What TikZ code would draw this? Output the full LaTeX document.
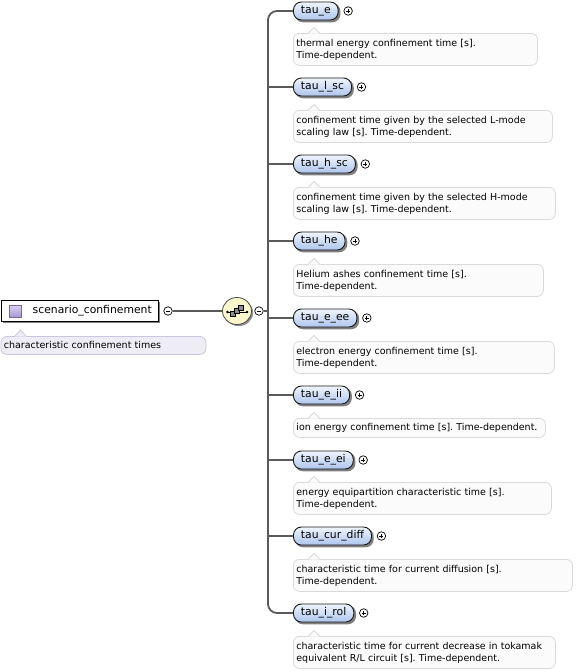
\documentclass[tikz,border=0pt]{standalone}
\usepackage{fontspec}
\setmainfont{DejaVu Sans}
\frenchspacing
\usetikzlibrary{calc,shapes.geometric,backgrounds}
\definecolor{conncol}{HTML}{5A5A5A}
\definecolor{docfill}{HTML}{FBFBFB}
\definecolor{docline}{HTML}{DADADA}
\definecolor{rootdocfill}{HTML}{EEEDF6}
\definecolor{rootdocline}{HTML}{C9C6DD}
\definecolor{pilltop}{HTML}{F0F5FD}
\definecolor{pillbot}{HTML}{ADC5EC}
\definecolor{compfill}{HTML}{FBF7CC}
\definecolor{iconA}{HTML}{D9D2F0}
\definecolor{iconB}{HTML}{A698D4}
\tikzset{
  conn/.style={draw=conncol, line width=1.8pt},
  pill/.style={draw=black!90, line width=0.9pt, rounded corners=8pt, minimum height=18pt,
    inner xsep=7.5pt, inner ysep=0pt, top color=pilltop, bottom color=pillbot,
    font=\fontsize{10.8}{12}\selectfont, anchor=west},
  pillshadow/.style={fill=black!50, rounded corners=8pt},
  docbox/.style={draw=docline, line width=0.8pt, fill=docfill, rounded corners=6pt,
    anchor=north west, align=left, inner xsep=3pt, inner ysep=2pt,
    font=\fontsize{9.5}{12}\selectfont},
  rootdoc/.style={docbox, draw=rootdocline, fill=rootdocfill},
  pm/.style={circle, draw=black, line width=0.7pt, fill=white, minimum size=8.5pt, inner sep=0pt},
}
\newcommand\plusmark[1]{%
  \draw[line width=0.7pt] ($(#1)+(-2,0)$) -- ($(#1)+(2,0)$);
  \draw[line width=0.7pt] ($(#1)+(0,-2)$) -- ($(#1)+(0,2)$);}
\newcommand\minusmark[1]{%
  \draw[line width=0.7pt] ($(#1)+(-2,0)$) -- ($(#1)+(2,0)$);}
% #1 name, #2 label, #3 y, #4 doc top, #5 doc right, #6 doc height, #7 text
\newcommand\xchild[7]{%
  \node[pill, opacity=0, text opacity=0] (#1tmp) at (293,#3) {#2};
  \fill[pillshadow] ($(#1tmp.south west)+(1.8,1.8)$) rectangle ($(#1tmp.north east)+(1.8,1.8)$);
  \node[pill] (#1) at (293,#3) {#2};
  \node[pm] (#1p) at ($(#1.east)+(9.5,0)$) {};
  \plusmark{#1p}
  \node[docbox, minimum width={#5-293}, minimum height=#6, text width={#5-299}] (#1d) at (293,#4) {#7};
  \fill[docfill] (308.5,#4+0.6) -- (314,#4-5.5) -- (319.5,#4+0.6) -- cycle;
  \draw[docline, line width=0.8pt] (308.5,#4) -- (314,#4-5.5) -- (319.5,#4);
}
\begin{document}
\begin{tikzpicture}[x=1pt, y=-1pt]
\useasboundingbox (0,0) rectangle (580,672);
% root
\fill[black!50] (3,302) rectangle (159.5,322.5);
\node[draw=black, line width=0.9pt, fill=white, minimum width=157pt, minimum height=21pt, anchor=north west, inner sep=0pt] (root) at (0.5,300) {};
\node[anchor=west, inner sep=0pt, font=\fontsize{10.8}{12}\selectfont] (roottext) at (32.5,311) {scenario\_confinement};
\node[draw=iconB!70!black, line width=0.6pt, top color=iconA, bottom color=iconB, minimum size=12pt, inner sep=0pt] (rooticon) at (15.5,311) {};
\node[rootdoc, minimum width=205pt, minimum height=18pt, text width=199pt] (rootd) at (0.5,336) {characteristic confinement times};
\fill[rootdocfill] (15,336.6) -- (20.5,330) -- (26,336.6) -- cycle;
\draw[rootdocline, line width=0.8pt] (15,336) -- (20.5,330) -- (26,336);
\node[pm] (rootm) at (168,311) {};
\minusmark{rootm}
% compositor
\node[pm] (compm) at (259,311) {};
\minusmark{compm}
\coordinate (trunk) at (268,311);
\fill[black!45] (238.6,312.6) ellipse [x radius=14.5, y radius=13.5];
\node[ellipse, draw=black!70, line width=0.8pt, fill=compfill, minimum width=29pt, minimum height=27pt, inner sep=0pt] (comp) at (237,311) {};
\draw[line width=0.8pt] (227,312) -- (247.5,312);
\fill (227.5,312) circle (1.3); \fill (247,312) circle (1.3);
\foreach \dx/\dy in {0/0, 4/-3, 8/-6} {
  \draw[line width=0.6pt, fill=black!45] (230.5+\dx,311.5+\dy) rectangle (235.5+\dx,316.5+\dy);
}
% children
\xchild{e}{tau\_e}{11}{33}{537}{32pt}{thermal energy confinement time [s].\\Time-dependent.}
\xchild{lsc}{tau\_l\_sc}{87}{110}{552}{32pt}{confinement time given by the selected L-mode\\scaling law [s]. Time-dependent.}
\xchild{hsc}{tau\_h\_sc}{164}{187}{555}{32pt}{confinement time given by the selected H-mode\\scaling law [s]. Time-dependent.}
\xchild{he}{tau\_he}{241}{264}{543}{32pt}{Helium ashes confinement time [s].\\Time-dependent.}
\xchild{eee}{tau\_e\_ee}{318}{341}{554}{32pt}{electron energy confinement time [s].\\Time-dependent.}
\xchild{eii}{tau\_e\_ii}{395}{418}{545}{19pt}{ion energy confinement time [s]. Time-dependent.}
\xchild{eei}{tau\_e\_ei}{460}{482}{551}{32pt}{energy equipartition characteristic time [s].\\Time-dependent.}
\xchild{cur}{tau\_cur\_diff}{536}{559}{572}{32pt}{characteristic time for current diffusion [s].\\Time-dependent.}
\xchild{rol}{tau\_i\_rol}{613}{636}{555}{32pt}{characteristic time for current decrease in tokamak\\equivalent R/L circuit [s]. Time-dependent.}
% connectors
\begin{scope}[on background layer]
\draw[conn] (rootm) -- (comp);
\draw[conn] (compm) -- (trunk);
\draw[conn, rounded corners=9pt] (e.west) -| (trunk) |- (rol.west);
\foreach \n in {lsc,hsc,he,eee,eii,eei,cur} {
  \draw[conn] (trunk |- \n.west) -- (\n.west);
}
\end{scope}
\end{tikzpicture}
\end{document}
